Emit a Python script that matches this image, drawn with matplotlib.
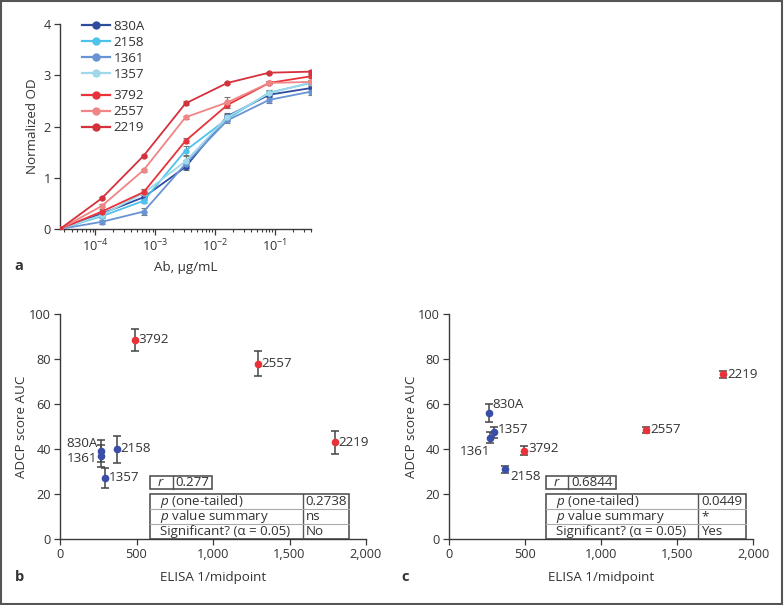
import matplotlib
matplotlib.use("Agg")
import matplotlib.pyplot as plt
import numpy as np
from matplotlib.lines import Line2D
from matplotlib.patches import Rectangle
from matplotlib.ticker import FuncFormatter, LogLocator, NullFormatter

plt.rcParams['font.family'] = ['Open Sans', 'DejaVu Sans']
plt.rcParams['mathtext.fontset'] = 'custom'
plt.rcParams['mathtext.rm'] = 'Open Sans'
plt.rcParams['mathtext.it'] = 'Open Sans:italic'
plt.rcParams['font.size'] = 9.3

# ---------------- data ----------------
conc = [2.56e-5, 1.28e-4, 6.4e-4, 3.2e-3, 0.016, 0.08, 0.4]
names = ['830A', '2158', '1361', '1357', '3792', '2557', '2219']
colors = ['#2e4b9e', '#4fc2ec', '#6893d4', '#9fd8e8', '#e8333b', '#f08585', '#d4313b']
od = {
    '830A': [0, 0.30, 0.62, 1.21, 2.20, 2.62, 2.75],
    '2158': [0, 0.25, 0.55, 1.53, 2.15, 2.66, 2.85],
    '1361': [0, 0.14, 0.34, 1.27, 2.12, 2.52, 2.68],
    '1357': [0, 0.27, 0.70, 1.32, 2.18, 2.65, 2.86],
    '3792': [0, 0.34, 0.72, 1.72, 2.42, 2.85, 2.98],
    '2557': [0, 0.45, 1.15, 2.18, 2.47, 2.85, 2.87],
    '2219': [0, 0.60, 1.43, 2.45, 2.85, 3.05, 3.07],
}
od_err = {
    '830A': [0, 0.03, 0.05, 0.06, 0.05, 0.05, 0.05],
    '2158': [0, 0.03, 0.04, 0.08, 0.05, 0.05, 0.04],
    '1361': [0, 0.04, 0.07, 0.08, 0.06, 0.06, 0.07],
    '1357': [0, 0.03, 0.08, 0.10, 0.08, 0.05, 0.04],
    '3792': [0, 0.05, 0.06, 0.05, 0.05, 0.03, 0.04],
    '2557': [0, 0.03, 0.03, 0.03, 0.10, 0.03, 0.03],
    '2219': [0, 0.02, 0.02, 0.04, 0.02, 0.02, 0.04],
}

pt_names = ['830A', '1361', '2158', '1357', '3792', '2557', '2219']
pt_colors = ['#3a4ea8', '#3a4ea8', '#3a4ea8', '#3a4ea8', '#e8323a', '#e8323a', '#e8323a']
elisa = [266, 268, 370, 294, 492, 1295, 1800]
adcp_b = [39.2, 36.8, 40.0, 27.0, 88.5, 78.0, 43.0]
adcp_b_err = [5.0, 5.0, 6.0, 4.5, 5.0, 5.5, 5.0]
adcp_c = [55.8, 45.0, 31.0, 47.5, 39.3, 48.5, 73.2]
adcp_c_err = [4.0, 2.5, 1.5, 2.5, 2.0, 1.5, 1.5]

stats_b = ['0.277', '0.2738', 'ns', 'No']
stats_c = ['0.6844', '0.0449', '*', 'Yes']
row_labels = ['$\\it{p}$ (one-tailed)', '$\\it{p}$ value summary', 'Significant? (α = 0.05)']

TXT = '#333333'
SP = '#3a3a3a'
FS_TICK = 9.2
FS_LAB = 9.6
FS_TXT = 9.6

fig = plt.figure(figsize=(7.84, 6.05), dpi=100)

def style(ax):
    for s in ['top', 'right']:
        ax.spines[s].set_visible(False)
    for s in ['left', 'bottom']:
        ax.spines[s].set_color(SP)
        ax.spines[s].set_linewidth(1.0)
    ax.tick_params(colors=SP, labelcolor=TXT, labelsize=FS_TICK, length=4, width=0.9, pad=2.5)
    ax.tick_params(which='minor', colors=SP, length=2.5, width=0.8)

# ---------------- panel a ----------------
axa = fig.add_axes([60/784, 1-229/605, 251/784, 205/605])
style(axa)
for n, c in zip(names, colors):
    axa.errorbar(conc, od[n], yerr=od_err[n], color=c, marker='o', ms=3.5, lw=1.3,
                 ecolor='#777777', elinewidth=0.8, capsize=2, capthick=0.8, zorder=3)
axa.set_xscale('log')
axa.set_xlim(conc[0], conc[-1])
axa.set_ylim(0, 4)
axa.set_yticks([0, 1, 2, 3, 4])
axa.xaxis.set_major_locator(LogLocator(base=10, numticks=10))
axa.xaxis.set_minor_locator(LogLocator(base=10, subs=np.arange(2, 10), numticks=20))
axa.xaxis.set_minor_formatter(NullFormatter())
axa.xaxis.set_major_formatter(FuncFormatter(lambda v, p: '$10^{%d}$' % int(round(np.log10(v)))))
axa.set_xlabel('Ab, µg/mL', color=TXT, fontsize=FS_LAB)
axa.set_ylabel('Normalized OD', color=TXT, fontsize=FS_LAB)
axa.xaxis.set_label_coords(0.5, -0.158)
axa.yaxis.set_label_coords(-0.085, 0.5)

h1 = [Line2D([], [], color=c, marker='o', ms=5, lw=1.6) for c in colors[:4]]
h2 = [Line2D([], [], color=c, marker='o', ms=5, lw=1.6) for c in colors[4:]]
leg1 = axa.legend(h1, names[:4], loc='upper left', bbox_to_anchor=(0.065, 1.045), frameon=False,
                  handlelength=2.1, labelspacing=0.22, handletextpad=0.3, fontsize=FS_TXT, borderaxespad=0)
for t in leg1.get_texts():
    t.set_color(TXT)
axa.add_artist(leg1)
leg2 = axa.legend(h2, names[4:], loc='upper left', bbox_to_anchor=(0.065, 0.707), frameon=False,
                  handlelength=2.1, labelspacing=0.22, handletextpad=0.3, fontsize=FS_TXT, borderaxespad=0)
for t in leg2.get_texts():
    t.set_color(TXT)
fig.text(14/784, 1-266/605, 'a', fontsize=10.5, fontweight='bold', color=TXT, va='center')

# ---------------- panels b and c ----------------
def scatter_panel(rect, vals, errs, stats, label_cfg, rbox, table, ylab_x):
    ax = fig.add_axes(rect)
    style(ax)
    for i in range(len(pt_names)):
        ax.errorbar(elisa[i], vals[i], yerr=errs[i], color=pt_colors[i], marker='o', ms=4.5,
                    ecolor='#444444', elinewidth=1.1, capsize=3, capthick=1.1, zorder=3)
    ax.set_xlim(0, 2000)
    ax.set_ylim(0, 100)
    ax.set_xticks([0, 500, 1000, 1500, 2000])
    ax.set_yticks([0, 20, 40, 60, 80, 100])
    ax.xaxis.set_major_formatter(FuncFormatter(lambda v, p: f'{int(v):,}'))
    ax.set_xlabel('ELISA 1/midpoint', color=TXT, fontsize=FS_LAB)
    ax.set_ylabel('ADCP score AUC', color=TXT, fontsize=FS_LAB)
    ax.xaxis.set_label_coords(0.5, -0.143)
    ax.yaxis.set_label_coords(ylab_x, 0.5)
    for i, n in enumerate(pt_names):
        dx, dy, ha = label_cfg[n]
        ax.text(elisa[i] + dx, vals[i] + dy, n, ha=ha, va='center', fontsize=FS_TXT, color=TXT, zorder=4)
    # r box
    x0, xm, x1, y0, y1 = rbox
    ax.add_patch(Rectangle((x0, y0), x1 - x0, y1 - y0, fill=False, ec='#555555', lw=1.2, zorder=2))
    ax.plot([xm, xm], [y0, y1], color='#555555', lw=1.0, zorder=2)
    ax.text(x0 + (xm - x0) / 2, (y0 + y1) / 2, '$\\it{r}$', ha='center', va='center', fontsize=FS_TXT, color=TXT)
    ax.text(xm + 20, (y0 + y1) / 2, stats[0], ha='left', va='center', fontsize=FS_TXT, color=TXT)
    # main table
    tx0, txm, tx1, ty0, ty1 = table
    ax.add_patch(Rectangle((tx0, ty0), tx1 - tx0, ty1 - ty0, fill=False, ec='#555555', lw=1.2, zorder=2))
    ax.plot([txm, txm], [ty0, ty1], color='#555555', lw=1.0, zorder=2)
    rh = (ty1 - ty0) / 3
    for k in (1, 2):
        ax.plot([tx0, tx1], [ty1 - k * rh] * 2, color='#aaaaaa', lw=0.8, zorder=2)
    for k in range(3):
        yc = ty1 - (k + 0.5) * rh
        ax.text(tx0 + 65, yc, row_labels[k], ha='left', va='center', fontsize=FS_TXT, color=TXT)
        ax.text(txm + 18, yc, stats[k + 1], ha='left', va='center', fontsize=FS_TXT, color=TXT)
    return ax

lab_b = {'830A': (-22, 3.2, 'right'), '1361': (-22, -1.0, 'right'), '2158': (25, 0, 'left'),
         '1357': (22, 0.5, 'left'), '3792': (22, 0, 'left'), '2557': (22, 0, 'left'),
         '2219': (22, 0, 'left')}
lab_c = {'830A': (22, 4.0, 'left'), '1361': (5, -6.3, 'right'), '2158': (35, -3.3, 'left'),
         '1357': (30, 1.0, 'left'), '3792': (30, 0.8, 'left'), '2557': (30, 0, 'left'),
         '2219': (30, 0, 'left')}

axb = scatter_panel([60/784, 1-539/605, 306/784, 225/605], adcp_b, adcp_b_err, stats_b, lab_b,
                    (588, 736, 992, 22.2, 28.1), (588, 1587, 1892, 0, 20), -0.104)
axc = scatter_panel([449/784, 1-539/605, 304/784, 225/605], adcp_c, adcp_c_err, stats_c, lab_c,
                    (636, 783, 1096, 22.2, 28.1), (636, 1641, 1952, 0, 20), -0.102)
fig.text(15/784, 1-577/605, 'b', fontsize=10.5, fontweight='bold', color=TXT, va='center')
fig.text(401/784, 1-577/605, 'c', fontsize=10.5, fontweight='bold', color=TXT, va='center')

# figure frame
fig.patches.append(Rectangle((0.001, 0.002), 0.997, 0.996, transform=fig.transFigure, fill=False,
                             ec='#555555', lw=1.5))

fig.savefig('out.png', dpi=100)
